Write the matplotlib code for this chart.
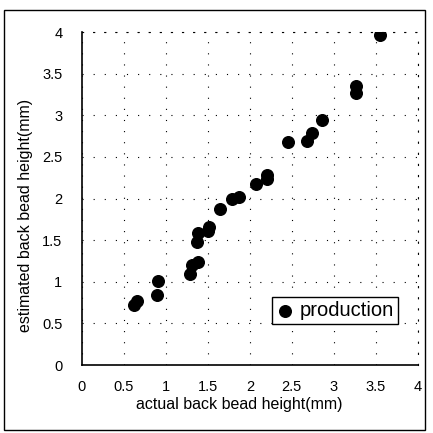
import matplotlib
matplotlib.use("Agg")
import matplotlib.pyplot as plt
from matplotlib.patches import Rectangle

plt.rcParams["font.family"] = ["Liberation Sans", "DejaVu Sans"]

# data (mm)
actual = [0.62, 0.66, 0.90, 0.91, 1.29, 1.31, 1.38, 1.37, 1.38, 1.50, 1.51,
          1.65, 1.79, 1.87, 2.07, 2.20, 2.21, 2.45, 2.68, 2.74, 2.86,
          3.26, 3.26, 3.55]
estimated = [0.72, 0.77, 0.84, 1.01, 1.09, 1.20, 1.24, 1.48, 1.58, 1.61, 1.66,
             1.87, 2.00, 2.02, 2.17, 2.24, 2.28, 2.68, 2.69, 2.79, 2.94,
             3.27, 3.35, 3.96]
ticks = [0, 0.5, 1, 1.5, 2, 2.5, 3, 3.5, 4]
tick_labels = ["0", "0.5", "1", "1.5", "2", "2.5", "3", "3.5", "4"]

fig = plt.figure(figsize=(4.33, 4.33), dpi=100)
ax = fig.add_axes([0.189, 0.157, 0.776, 0.769])

ax.scatter(actual, estimated, s=70, color="black", zorder=3, label="production")

ax.set_xlim(0, 4)
ax.set_ylim(0, 4)
ax.set_xticks(ticks)
ax.set_yticks(ticks)
ax.set_xticklabels(tick_labels)
ax.set_yticklabels(tick_labels)
ax.tick_params(length=0, labelsize=10.5, pad=11)
ax.tick_params(axis="y", pad=14)
ax.grid(True, color="black", lw=0.8, linestyle=(0, (1, 9)))
for side in ["top", "right"]:
    ax.spines[side].set_linestyle((0, (1, 9)))
    ax.spines[side].set_linewidth(0.8)
for side in ["left", "bottom"]:
    ax.spines[side].set_linewidth(1.2)

ax.set_xlabel("actual back bead height(mm)", fontsize=11.5)
ax.set_ylabel("estimated back bead height(mm)", fontsize=11.5)
ax.xaxis.set_label_coords(0.468, -0.095)
ax.yaxis.set_label_coords(-0.145, 0.45)

leg = ax.legend(loc="lower left", bbox_to_anchor=(0.565, 0.123), borderaxespad=0,
                fontsize=14.5, fancybox=False, framealpha=1, edgecolor="black",
                handletextpad=0.3, borderpad=0.2, handlelength=0.9)
leg.get_frame().set_linewidth(1.0)

# outer frame of the figure
fig.patches.append(Rectangle((0.009, 0.008), 0.973, 0.968, transform=fig.transFigure,
                             fill=False, edgecolor="black", lw=1.0))

fig.savefig("out.png", dpi=100)
